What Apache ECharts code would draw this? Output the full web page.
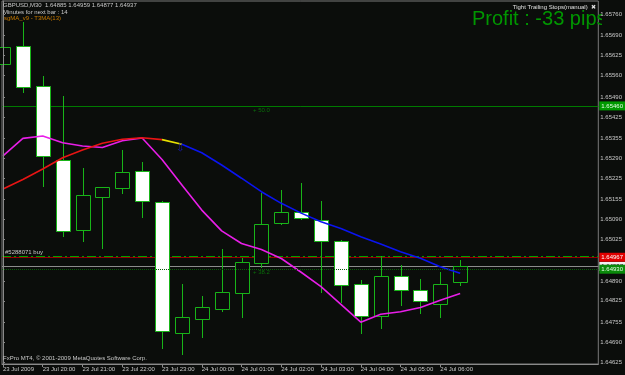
<!DOCTYPE html>
<html><head><meta charset="utf-8">
<script src="https://cdn.jsdelivr.net/npm/echarts@6/dist/echarts.min.js"></script>
<style>html,body{margin:0;padding:0;background:#0b0d0b}#c{width:625px;height:375px}</style>
</head><body><div id="c"></div>
<script>
// ---- data (GBPUSD, M30) ----
const barTimes = ['23 Jul 19:00','23 Jul 19:30','23 Jul 20:00','23 Jul 20:30','23 Jul 21:00','23 Jul 21:30',
  '23 Jul 22:00','23 Jul 22:30','23 Jul 23:00','23 Jul 23:30','24 Jul 00:00','24 Jul 00:30',
  '24 Jul 01:00','24 Jul 01:30','24 Jul 02:00','24 Jul 02:30','24 Jul 03:00','24 Jul 03:30',
  '24 Jul 04:00','24 Jul 04:30','24 Jul 05:00','24 Jul 05:30','24 Jul 06:00','24 Jul 06:30'];
const opens  = [1.65598,1.65655,1.65525,1.65283,1.65056,1.65163,1.65192,1.65249,1.65146,1.64721,1.64766,1.64797,
                1.64851,1.64949,1.65078,1.65114,1.65088,1.65019,1.64880,1.64776,1.64907,1.64859,1.64814,1.64885];
const highs  = [1.65725,1.65735,1.65559,1.65492,1.65259,1.65197,1.65317,1.65279,1.65151,1.64879,1.64840,1.64994,
                1.64966,1.65178,1.65187,1.65210,1.65151,1.65022,1.64893,1.64971,1.64942,1.64895,1.64920,1.64959];
const lows   = [1.65582,1.65507,1.65201,1.65036,1.65020,1.64997,1.65176,1.65099,1.64672,1.64650,1.64708,1.64793,
                1.64773,1.64936,1.65075,1.65091,1.64855,1.64822,1.64721,1.64735,1.64811,1.64784,1.64773,1.64877];
const closes = [1.65653,1.65522,1.65297,1.65053,1.65170,1.65195,1.65244,1.65150,1.64726,1.64771,1.64804,1.64853,
                1.64951,1.65075,1.65114,1.65094,1.65019,1.64876,1.64774,1.64905,1.64860,1.64823,1.64880,1.64937];
// sgMA (magenta) and T3MA(13) (red rising / yellow flat / blue falling)
const sgMA = [1.65298,1.65355,1.65363,1.65341,1.65330,1.65325,1.65347,1.65356,1.65286,1.65203,1.65121,1.65053,
              1.65012,1.64992,1.64963,1.64918,1.64871,1.64813,1.64755,1.64781,1.64789,1.64803,1.64827,1.64849];
const t3MA = [1.65190,1.65221,1.65255,1.65292,1.65317,1.65339,1.65352,1.65357,1.65351,1.65336,1.65308,1.65268,
              1.65225,1.65181,1.65143,1.65111,1.65083,1.65061,1.65034,1.65010,1.64985,1.64964,1.64936,1.64915];
const t3RedEnd = 8, t3YellowEnd = 9;
// tick labels
const xTickIdx = [0,2,4,6,8,10,12,14,16,18,20,22];
const xTickLabels = ['23 Jul 2009','23 Jul 20:00','23 Jul 21:00','23 Jul 22:00','23 Jul 23:00','24 Jul 00:00',
  '24 Jul 01:00','24 Jul 02:00','24 Jul 03:00','24 Jul 04:00','24 Jul 05:00','24 Jul 06:00'];
const yTickLabels = ['1.65760','1.65690','1.65625','1.65560','1.65490','1.65425','1.65355','1.65290','1.65225',
  '1.65155','1.65090','1.65025','1.64890','1.64825','1.64755','1.64690','1.64625'];
// horizontal levels
const tpLevel = 1.65461, orderLevel = 1.64970, slLevel = 1.64967, bidLevel = 1.64937, trailLevel = 1.64928;
const tpText = '1.65460', slText = '1.64967', bidText = '1.64937', trailText = '1.64930';

const BG = '#0b0d0b', GREEN = '#18b418', TXT = '#c8c8c8';
const FONT = 'Liberation Sans';

const chart = echarts.init(document.getElementById('c'), null, {renderer: 'canvas'});
const candleData = barTimes.map((t, i) => [i, opens[i], closes[i], lows[i], highs[i]]);
const toXY = arr => arr.map((v, i) => [i, v]);
const t3All = toXY(t3MA);

function levelLine(value, color, type, labelText, labelBg, labelColor) {
  const item = {yAxis: value, lineStyle: {color: color, type: type, width: 1}};
  if (labelText) {
    item.label = {show: true, position: 'end', distance: 1, formatter: labelText,
      backgroundColor: labelBg, color: labelColor, fontSize: 6, fontFamily: FONT,
      padding: [1, 2, 1, 2], lineHeight: 7};
  } else {
    item.label = {show: false};
  }
  return item;
}

const option = {
  animation: false,
  backgroundColor: BG,
  grid: {left: 1, top: 1, width: 600, height: 363, show: true, borderColor: '#7a7a7a', borderWidth: 1,
         backgroundColor: 'transparent'},
  xAxis: {
    type: 'value', min: -0.05, max: 29.95,
    axisLine: {show: true, lineStyle: {color: '#8a8a8a', width: 1}},
    axisTick: {show: true, length: 3, customValues: xTickIdx, lineStyle: {color: '#8a8a8a'}},
    axisLabel: {customValues: xTickIdx, showMinLabel: true, showMaxLabel: true, align: 'left', margin: 2,
      color: TXT, fontSize: 6, fontFamily: FONT,
      formatter: v => xTickLabels[xTickIdx.indexOf(Math.round(v))] || ''},
    splitLine: {show: false}
  },
  yAxis: {
    type: 'value', position: 'right', min: 1.646186, max: 1.658034, z: 5,
    axisLine: {show: true, lineStyle: {color: '#8a8a8a', width: 1}},
    axisTick: {show: true, length: 2, customValues: yTickLabels.map(Number), lineStyle: {color: '#8a8a8a'}},
    axisLabel: {customValues: yTickLabels.map(Number), showMinLabel: true, showMaxLabel: true, margin: 2,
      color: TXT, fontSize: 6, fontFamily: FONT, formatter: v => v.toFixed(5)},
    splitLine: {show: false}
  },
  series: [
    {
      type: 'custom', z: 2, silent: true,
      data: candleData,
      renderItem: function (params, api) {
        const i = api.value(0), o = api.value(1), c = api.value(2), l = api.value(3), h = api.value(4);
        const pH = api.coord([i, h]), pL = api.coord([i, l]), pO = api.coord([i, o]), pC = api.coord([i, c]);
        const x = Math.round(pH[0]) + 0.5;
        const yT = Math.round(Math.min(pO[1], pC[1])) + 0.5;
        const yB = Math.round(Math.max(pO[1], pC[1])) + 0.5;
        const bull = c >= o;
        return {type: 'group', children: [
          {type: 'line', shape: {x1: x, y1: Math.round(pH[1]), x2: x, y2: Math.round(pL[1]) + 1},
           style: {stroke: GREEN, lineWidth: 1}},
          {type: 'rect', shape: {x: x - 7, y: yT, width: 14, height: Math.max(yB - yT, 1)},
           style: {fill: bull ? BG : '#ffffff', stroke: GREEN, lineWidth: 1}}
        ]};
      },
      markLine: {silent: true, symbol: ['none', 'none'], animation: false, z: 1, precision: 5,
        data: [
          levelLine(tpLevel, '#007a00', 'solid', tpText, '#009a00', '#e8ffe8'),
          levelLine(orderLevel, '#00a000', [9, 3, 2, 3], null),
          levelLine(slLevel, '#9a0000', 'solid', slText, '#e00000', '#ffffff'),
          levelLine(bidLevel, '#8c8c8c', 'solid', bidText, '#f0f0f0', '#000000')
        ]}
    },
    {
      type: 'line', data: toXY(sgMA), z: 3, showSymbol: false, silent: true,
      lineStyle: {color: '#e81ee8', width: 1.6},
      markLine: {silent: true, symbol: ['none', 'none'], animation: false, z: 4, precision: 5,
        data: [levelLine(trailLevel, '#0a5a0a', 'dotted', trailText, '#0a8a0a', '#e8ffe8')]}
    },
    {
      type: 'line', data: t3All.slice(0, t3RedEnd + 1), z: 3, showSymbol: false, silent: true,
      lineStyle: {color: '#e81414', width: 1.6}
    },
    {
      type: 'line', data: t3All.slice(t3RedEnd, t3YellowEnd + 1), z: 3, showSymbol: false, silent: true,
      lineStyle: {color: '#e8e000', width: 1.6}
    },
    {
      type: 'line', data: t3All.slice(t3YellowEnd), z: 3, showSymbol: false, silent: true,
      lineStyle: {color: '#0a14f0', width: 1.6}
    }
  ],
  graphic: [
    {type: 'text', left: 3, top: 2, z: 6, style: {text: 'GBPUSD,M30  1.64885 1.64959 1.64877 1.64937', fill: TXT, fontSize: 6, fontFamily: FONT}},
    {type: 'text', left: 3, top: 9, z: 6, style: {text: 'Minutes for next bar : 14', fill: TXT, fontSize: 6, fontFamily: FONT}},
    {type: 'text', left: 4, top: 15.5, z: 6, style: {text: 'sgMA_v9 - T3MA(13)', fill: '#c87a00', fontSize: 6, fontFamily: FONT}},
    {type: 'text', x: 596, y: 4, z: 6, style: {text: 'Tight Trailing Stops(manual)  \u2716', fill: '#e0e0e0', fontSize: 6, fontFamily: FONT, align: 'right'}},
    {type: 'text', x: 472, y: 9, z: 3, style: {text: 'Profit : -33 pips', fill: '#009600', fontSize: 20, fontFamily: FONT}},
    {type: 'rect', z: 4, shape: {x: 602, y: 2, width: 23, height: 40}, style: {fill: BG}},
    {type: 'text', x: 253, y: 107, z: 6, style: {text: '+ 50.0', fill: '#0a6e0a', fontSize: 6, fontFamily: FONT}},
    {type: 'text', x: 253, y: 269, z: 6, style: {text: '+ 38.2', fill: '#0a6e0a', fontSize: 6, fontFamily: FONT}},
    {type: 'text', x: 5, y: 249.5, z: 6, style: {text: '#5288071 buy', fill: TXT, fontSize: 6, fontFamily: FONT}},
    {type: 'text', x: 176, y: 143, z: 6, style: {text: '\u21E9', fill: '#1a1ab0', fontSize: 10, fontFamily: 'DejaVu Sans'}},
    {type: 'text', x: 3, y: 355.5, z: 6, style: {text: 'FxPro MT4, \u00A9 2001-2009 MetaQuotes Software Corp.', fill: TXT, fontSize: 6, fontFamily: FONT}}
  ]
};
chart.setOption(option);
</script>
</body></html>
